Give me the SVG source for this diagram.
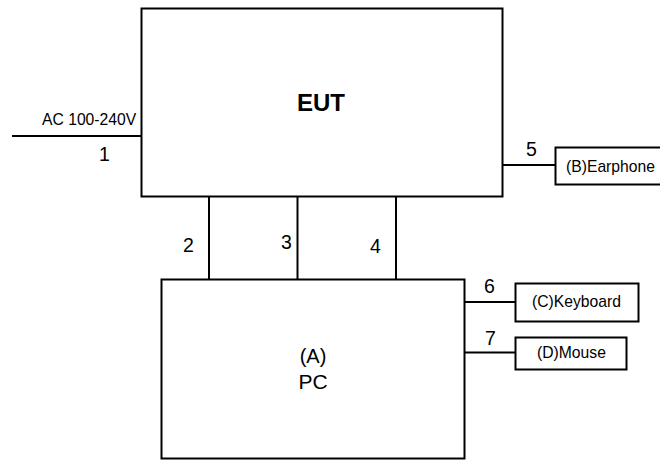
<svg xmlns="http://www.w3.org/2000/svg" width="660" height="460" viewBox="0 0 660 460">
<style>
.box{fill:#fff;stroke:#000;stroke-width:2}
.ln{stroke:#000;stroke-width:2;fill:none}
text{font-family:"Liberation Sans",Arial,sans-serif;fill:#000}
.s{font-size:15.7px}
.n{font-size:19.5px}
</style>
<rect width="660" height="460" fill="#fff"/>
<g id="connectors">
<line class="ln" x1="12" y1="136" x2="142" y2="136"/>
<line class="ln" x1="502" y1="165" x2="555" y2="165"/>
<line class="ln" x1="209" y1="196" x2="209" y2="280"/>
<line class="ln" x1="297.5" y1="196" x2="297.5" y2="280"/>
<line class="ln" x1="396" y1="196" x2="396" y2="280"/>
<line class="ln" x1="464" y1="302" x2="515" y2="302"/>
<line class="ln" x1="464" y1="352.5" x2="515" y2="352.5"/>
<text class="s" x="42" y="125">AC 100-240V</text>
<text class="n" x="99" y="161">1</text>
<text class="n" x="526" y="156">5</text>
<text class="n" x="183" y="252">2</text>
<text class="n" x="281" y="249">3</text>
<text class="n" x="370" y="253">4</text>
<text class="n" x="484" y="293">6</text>
<text class="n" x="485" y="345">7</text>
</g>
<g id="eut">
<rect class="box" x="141.5" y="8.5" width="361" height="188"/>
<text x="321" y="111" font-size="24" font-weight="bold" text-anchor="middle">EUT</text>
</g>
<g id="pc">
<rect class="box" x="161.5" y="279.5" width="303" height="179"/>
<text x="313" y="363" font-size="20" text-anchor="middle">(A)</text>
<text x="313" y="389" font-size="21" text-anchor="middle">PC</text>
</g>
<g id="earphone">
<rect class="box" x="555.5" y="147.5" width="106" height="37"/>
<text class="s" x="566" y="172">(B)Earphone</text>
</g>
<g id="keyboard">
<rect class="box" x="515.5" y="283.5" width="123" height="38"/>
<text class="s" x="532" y="307">(C)Keyboard</text>
</g>
<g id="mouse">
<rect class="box" x="515.5" y="337.5" width="111" height="32"/>
<text class="s" x="537" y="358">(D)Mouse</text>
</g>
</svg>
